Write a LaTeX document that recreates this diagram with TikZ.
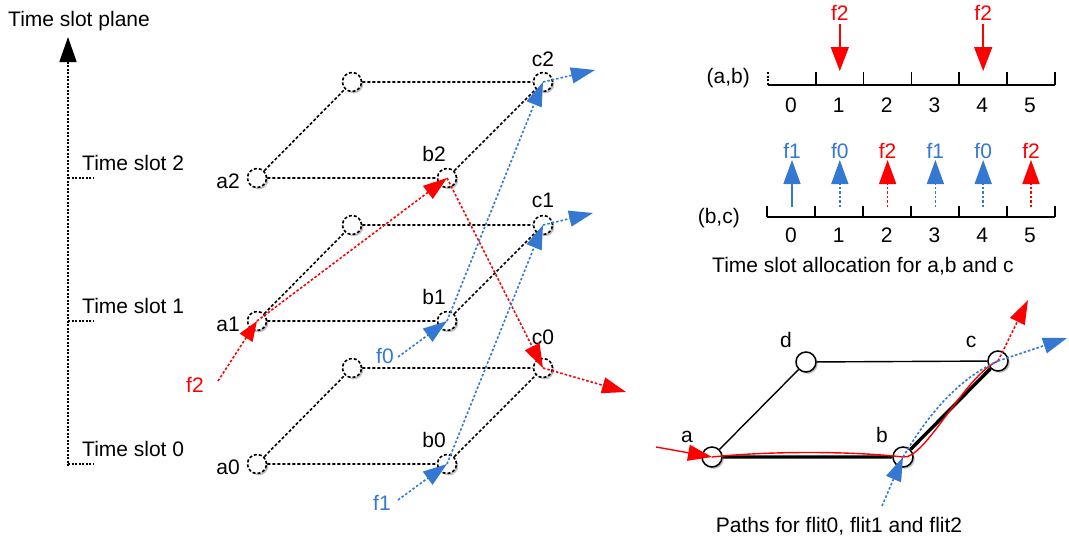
\documentclass[tikz,border=0pt]{standalone}
\usepackage{fontspec}
\setmainfont{Liberation Sans}
\usetikzlibrary{arrows.meta, shadows}
\definecolor{flitblue}{RGB}{52,120,210}
\definecolor{flitred}{RGB}{255,0,0}

\begin{document}
\begin{tikzpicture}[x=1pt, y=-1pt,
        txt/.style={inner sep=0pt, font=\fontsize{21}{25}\selectfont},
        shade2/.style={drop shadow={shadow xshift=1.8pt, shadow yshift=-1.8pt, fill=black!25, opacity=1}},
        slotnode/.style={circle, draw, dash pattern=on 3pt off 2pt, line width=1.6pt, fill=white, minimum size=19pt, inner sep=0pt, shade2},
        routernode/.style={circle, draw, line width=1.5pt, fill=white, minimum size=20pt, inner sep=0pt, shade2},
        slotedge/.style={dash pattern=on 3pt off 2pt, line width=1.6pt},
        tipbig/.style={-{Triangle[length=24pt, width=16pt]}},
        flowred/.style={flitred, dash pattern=on 2.5pt off 2pt, line width=1.6pt, tipbig},
        flowblue/.style={flitblue, dash pattern=on 2.5pt off 2pt, line width=1.6pt, tipbig},
        tline/.style={line width=1.5pt},
        stemdot/.style={dash pattern=on 2.5pt off 2pt},
        stemsolid/.style={solid}
    ]
    \useasboundingbox (0,0) rectangle (1069,538);

    % --- Time slot axis ---
    \node[txt, anchor=base west] (plane) at (8,27) {Time slot plane};
    \coordinate (axisbot) at (68,466);
    \coordinate (axistop) at (68,37);
    \draw[line width=1.7pt, dash pattern=on 2pt off 1.5pt, -{Triangle[length=25pt, width=17pt]}] (axisbot) -- (axistop);

    % --- Lattice of the three time slots ---
    \foreach \i/\y/\cl in {0/464/24, 1/321/18, 2/178/16} {
        \draw[line width=1.7pt, dash pattern=on 2pt off 1.5pt] (68,\y) -- (93,\y);
        \node[txt, anchor=base west] (slot\i) at (82,\y-8) {Time slot \i};
        \node[slotnode] (a\i) at (257,\y) {};
        \node[slotnode] (d\i) at (352,\y-96) {};
        \node[slotnode] (b\i) at (447,\y) {};
        \node[slotnode] (c\i) at (543,\y-96) {};
        \draw[slotedge] (a\i) -- (d\i) -- (c\i);
        \draw[slotedge] (a\i) -- (b\i) -- (c\i);
        \node[txt, anchor=base east] (la\i) at (240,\y+10) {a\i};
        \node[txt, anchor=base] (lb\i) at (434,\y-17) {b\i};
        \node[txt, anchor=base] (lc\i) at (543,\y-96-\cl) {c\i};
    }

    % --- Flit paths through the slots ---
    \coordinate (f2start) at (218,381);
    \coordinate (f0start) at (398,357);
    \coordinate (f1start) at (398,500);
    \coordinate (f2end) at (626,392);
    \coordinate (f0end) at (595,70);
    \coordinate (f1end) at (593,213);
    \node[txt, anchor=base, text=flitred] (f2lab) at (195,392) {f2};
    \node[txt, anchor=base, text=flitblue] (f0lab) at (385,363) {f0};
    \node[txt, anchor=base, text=flitblue] (f1lab) at (382,510) {f1};

    \draw[flowred, -{Triangle[length=20pt, width=15pt]}] (f2start) -- (a1.center);
    \draw[flowred] (a1.center) -- (b2.center);
    \draw[flowred] (b2.center) -- (c0.center);
    \draw[flowred] (c0.center) -- (f2end);

    \draw[flowblue] (f0start) -- (b1.center);
    \draw[flowblue] (b1.center) -- (c2.center);
    \draw[flowblue] (c2.center) -- (f0end);

    \draw[flowblue] (f1start) -- (b0.center);
    \draw[flowblue] (b0.center) -- (c1.center);
    \draw[flowblue] (c1.center) -- (f1end);

    % --- Time slot allocation (a,b) ---
    \node[txt, anchor=base east] (ablab) at (750,83) {(a,b)};
    \draw[tline] (768,85) -- (1055,85);
    \draw[tline, dash pattern=on 2pt off 1.5pt] (768,72) -- (768,85);
    \foreach \k in {1,...,6}
        \draw[tline] (768+47.8*\k,72) -- (768+47.8*\k,85);
    \foreach \k in {0,...,5}
        \node[txt, anchor=base] (abn\k) at (791+47.8*\k,112) {\k};
    \foreach \k in {1,4} {
        \node[txt, anchor=base, text=flitred] (abf\k) at (792+47.8*\k,20) {f2};
        \draw[flitred, line width=1.6pt, -{Triangle[length=24pt, width=18pt]}] (792+47.8*\k,24) -- (792+47.8*\k,71);
    }

    % --- Time slot allocation (b,c) ---
    \node[txt, anchor=base east] (bclab) at (740,223) {(b,c)};
    \draw[tline] (767,217) -- (1055,217);
    \foreach \k in {0,...,6}
        \draw[tline] (767+48*\k,206) -- (767+48*\k,217);
    \foreach \k in {0,...,5}
        \node[txt, anchor=base] (bcn\k) at (791+47.8*\k,242) {\k};
    \foreach \k/\f/\col/\p in {0/f1/flitblue/stemsolid, 1/f0/flitblue/stemdot, 2/f2/flitred/stemdot,
                               3/f1/flitblue/stemdot, 4/f0/flitblue/stemdot, 5/f2/flitred/stemdot} {
        \node[txt, anchor=base, text=\col] (bcf\k) at (792+47.8*\k,158) {\f};
        \draw[\col, \p, line width=1.6pt, -{Triangle[length=24pt, width=17pt]}] (792+47.8*\k,207) -- (792+47.8*\k,160);
    }
    \node[txt, anchor=base] (alloc) at (863,272) {Time slot allocation for a,b and c};

    % --- Router graph ---
    \node[routernode] (ga) at (712,457) {};
    \node[routernode] (gb) at (903,457) {};
    \node[routernode] (gc) at (998,361) {};
    \node[routernode] (gd) at (806,362) {};
    \draw[line width=1.4pt] (ga) -- (gd) -- (gc);
    \draw[line width=3.4pt] (ga) -- (gb) -- (gc);
    \node[txt, anchor=base] (lga) at (687,442) {a};
    \node[txt, anchor=base] (lgb) at (882,442) {b};
    \node[txt, anchor=base] (lgc) at (971,347) {c};
    \node[txt, anchor=base] (lgd) at (786,347) {d};

    \coordinate (redin) at (656,447);
    \coordinate (redout) at (1028,300);
    \coordinate (bluein) at (882,506);
    \coordinate (blueout) at (1067,338);
    \draw[flitred, line width=1.4pt, -{Triangle[length=24pt, width=16pt]}] (redin) -- (ga.center);
    \draw[flitred, line width=1.4pt] (ga.center) .. controls (770,451) and (850,451) .. (gb.center)
        .. controls (925,460) and (965,375) .. (gc.center);
    \draw[flowred] (gc.center) -- (redout);
    \draw[flowblue] (bluein) -- (gb.center);
    \draw[flitblue, dash pattern=on 2.5pt off 2pt, line width=1.6pt] (gb.center) .. controls (925,420) and (955,380) .. (gc.center);
    \draw[flowblue] (gc.center) -- (blueout);
    \node[txt, anchor=base] (paths) at (839,532) {Paths for flit0, flit1 and flit2};
\end{tikzpicture}
\end{document}
